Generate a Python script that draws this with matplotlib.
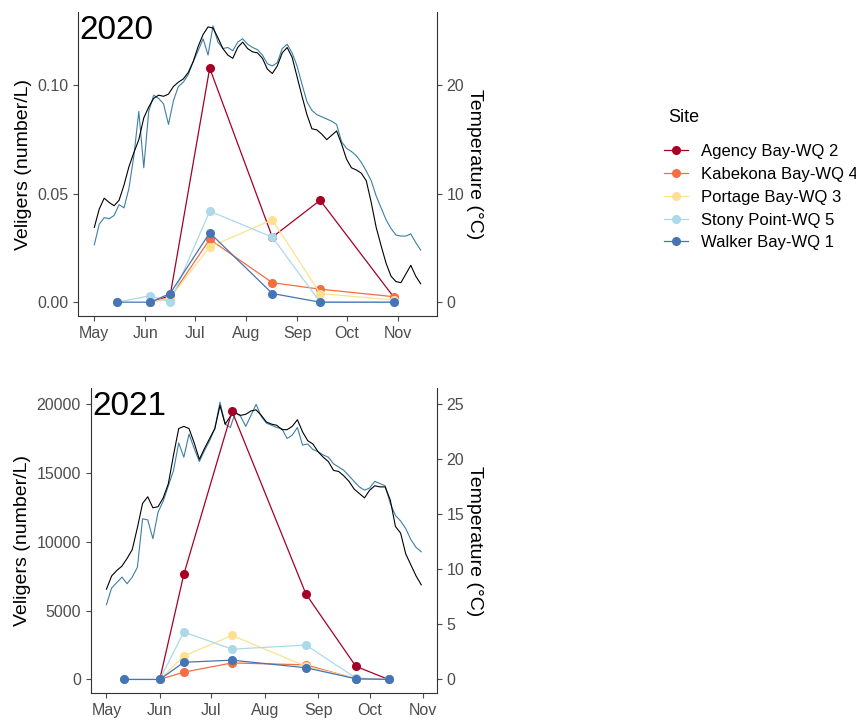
import matplotlib.pyplot as plt
import matplotlib.dates as mdates
import numpy as np
import pandas as pd
from matplotlib.lines import Line2D

plt.rcParams['font.family'] = ['Liberation Sans', 'DejaVu Sans']

sites = ['Agency Bay-WQ 2', 'Kabekona Bay-WQ 4', 'Portage Bay-WQ 3',
         'Stony Point-WQ 5', 'Walker Bay-WQ 1']
site_colors = ['#A50026', '#F46D43', '#FEE090', '#ABD9E9', '#4575B4']

# veliger sampling, 2020 (number/L)
dates20 = ['2020-05-15', '2020-06-04', '2020-06-16', '2020-07-10',
           '2020-08-17', '2020-09-15', '2020-10-30']
agency20 = [np.nan, 0.000, 0.003, 0.108, 0.030, 0.047, 0.002]
kabekona20 = [np.nan, 0.000, 0.002, 0.029, 0.009, 0.006, 0.0025]
portage20 = [np.nan, 0.000, 0.002, 0.0255, 0.038, 0.004, 0.001]
stony20 = [0.000, 0.003, 0.000, 0.042, 0.030, 0.000, 0.000]
walker20 = [0.000, 0.000, 0.004, 0.032, 0.004, 0.000, 0.000]

# veliger sampling, 2021
dates21 = ['2021-05-11', '2021-06-01', '2021-06-15', '2021-07-13',
           '2021-08-25', '2021-09-23', '2021-10-12']
agency21 = [np.nan, 0, 7650, 19500, 6200, 950, 0]
kabekona21 = [np.nan, 0, 530, 1200, 1060, 50, 0]
portage21 = [np.nan, 0, 1700, 3200, 950, 80, 0]
stony21 = [0, 0, 3450, 2200, 2500, 100, 0]
walker21 = [0, 0, 1250, 1400, 850, 50, 0]

# water temperature (deg C), one reading every 3 days from May 1
temp20_black = [6.9, 8.6, 9.6, 9.2, 8.9, 9.4, 10.8, 12.5, 13.8, 15.0,
                17.0, 18.0, 18.8, 19.1, 19.0, 19.2, 19.9, 20.3, 20.6, 21.2,
                22.2, 23.6, 24.7, 25.4, 25.3, 24.4, 23.4, 22.8, 22.5, 23.5,
                24.0, 23.4, 23.1, 23.0, 22.5, 21.5, 21.1, 21.8, 23.0, 23.5,
                22.6, 20.8, 19.0, 17.3, 16.0, 15.9, 15.5, 15.0, 15.4, 15.8,
                14.6, 13.2, 12.4, 12.2, 11.9, 11.2, 9.2, 6.9, 5.2, 3.6,
                2.4, 1.9, 1.8, 2.6, 3.4, 2.4, 1.7]
temp20_blue = [5.3, 7.2, 7.8, 7.7, 8.0, 9.0, 8.7, 10.5, 13.5, 17.6,
               12.4, 17.6, 19.1, 18.8, 18.3, 16.4, 18.6, 19.9, 20.3, 21.0,
               22.2, 23.2, 24.3, 22.8, 25.5, 24.0, 23.4, 23.5, 23.2, 24.0,
               24.3, 23.8, 23.5, 23.3, 22.8, 22.0, 21.8, 22.1, 23.4, 23.8,
               23.0, 21.8, 20.1, 18.5, 17.7, 17.3, 17.1, 16.9, 16.7, 16.4,
               14.8, 14.2, 13.9, 13.5, 12.9, 12.1, 11.2, 9.8, 8.7, 7.6,
               6.8, 6.2, 6.1, 6.1, 6.3, 5.5, 4.8]
temp21_black = [8.2, 9.4, 9.9, 10.3, 11.0, 11.8, 13.8, 16.0, 16.6, 15.6,
                15.7, 16.5, 17.8, 20.4, 22.8, 23.0, 22.8, 21.5, 20.0, 21.0,
                21.9, 22.8, 24.9, 23.2, 23.9, 24.2, 24.0, 24.1, 24.4, 24.5,
                24.0, 23.4, 23.2, 23.1, 22.7, 22.7, 23.0, 23.6, 22.5, 21.7,
                21.4, 20.7, 20.2, 19.8, 19.0, 18.9, 18.5, 18.0, 17.3, 16.9,
                16.5, 17.2, 17.6, 17.5, 17.5, 16.3, 13.9, 13.3, 11.4, 10.4,
                9.4, 8.6]
temp21_blue = [6.8, 8.3, 8.8, 9.3, 8.7, 9.3, 10.2, 14.6, 14.5, 12.8,
               15.2, 16.2, 17.6, 19.0, 21.5, 20.2, 22.3, 21.0, 19.8, 20.8,
               21.7, 22.8, 25.2, 23.2, 22.9, 24.3, 23.9, 23.0, 24.0, 25.0,
               23.9, 23.3, 23.1, 22.9, 22.8, 21.9, 22.2, 22.9, 21.3, 21.4,
               20.9, 20.7, 20.4, 20.2, 19.6, 19.3, 19.0, 18.5, 18.0, 17.5,
               17.2, 17.4, 18.0, 17.8, 17.6, 16.0, 14.9, 14.4, 13.7, 12.7,
               12.0, 11.6]

tick_col = '#4D4D4D'


def draw_panel(ax, year, vdates, series, tb, tl, k, yticks, ylabels, tticks):
    tdates = pd.date_range(f'{year}-05-01', periods=len(tb), freq='3D')
    ax.plot(tdates, np.array(tl) * k, color='#3C7FA6', lw=0.8)
    ax.plot(tdates, np.array(tb) * k, color='black', lw=0.8)
    vd = pd.to_datetime(vdates)
    for vals, col in zip(series, site_colors):
        ax.plot(vd, vals, color=col, lw=0.9, marker='o', ms=5.5)

    ax.spines['top'].set_visible(False)
    ax.spines['right'].set_visible(False)
    for s in ['left', 'bottom']:
        ax.spines[s].set_color('#333333')
    ax.set_yticks(yticks)
    ax.set_yticklabels(ylabels)
    months = pd.date_range(f'{year}-05-01', f'{year}-11-01', freq='MS')
    ax.set_xticks(months)
    ax.xaxis.set_major_formatter(mdates.DateFormatter('%b'))
    ax.tick_params(colors=tick_col, labelsize=11.5, length=3.5)
    ax.set_ylabel('Veligers (number/L)', fontsize=14, color='black')
    ax.text(0.005, 0.99, str(year), transform=ax.transAxes, fontsize=24,
            va='top', ha='left')

    sec = ax.secondary_yaxis('right', functions=(lambda v: v / k,
                                                 lambda t: t * k))
    sec.set_yticks(tticks)
    sec.spines['right'].set_color('#333333')
    sec.tick_params(colors=tick_col, labelsize=11.5, length=3.5)
    sec.set_ylabel('Temperature (°C)', fontsize=14, rotation=-90,
                   labelpad=1, color='black', va='bottom')


fig = plt.figure(figsize=(8.56, 7.21), dpi=100)
ax1 = fig.add_axes([78 / 856, 1 - 316 / 721, 359 / 856, 304 / 721])
ax2 = fig.add_axes([90.7 / 856, 1 - 693.3 / 721, 346.3 / 856, 305 / 721])

draw_panel(ax1, 2020, dates20,
           [agency20, kabekona20, portage20, stony20, walker20],
           temp20_black, temp20_blue, 0.005,
           [0, 0.05, 0.10], ['0.00', '0.05', '0.10'], [0, 10, 20])
draw_panel(ax2, 2021, dates21,
           [agency21, kabekona21, portage21, stony21, walker21],
           temp21_black, temp21_blue, 800,
           [0, 5000, 10000, 15000, 20000],
           ['0', '5000', '10000', '15000', '20000'], [0, 5, 10, 15, 20, 25])

handles = [Line2D([], [], color=c, lw=0.9, marker='o', ms=5.5)
           for c in site_colors]
fig.text(668 / 856, 1 - 117 / 721, 'Site', fontsize=13, ha='left',
         va='center')
fig.legend(handles, sites, loc='upper left',
           bbox_to_anchor=(649 / 856, 1 - 129 / 721), frameon=False,
           fontsize=12, handlelength=1.45,
           handletextpad=0.75, labelspacing=0.47)

fig.savefig('out.png', dpi=100)
